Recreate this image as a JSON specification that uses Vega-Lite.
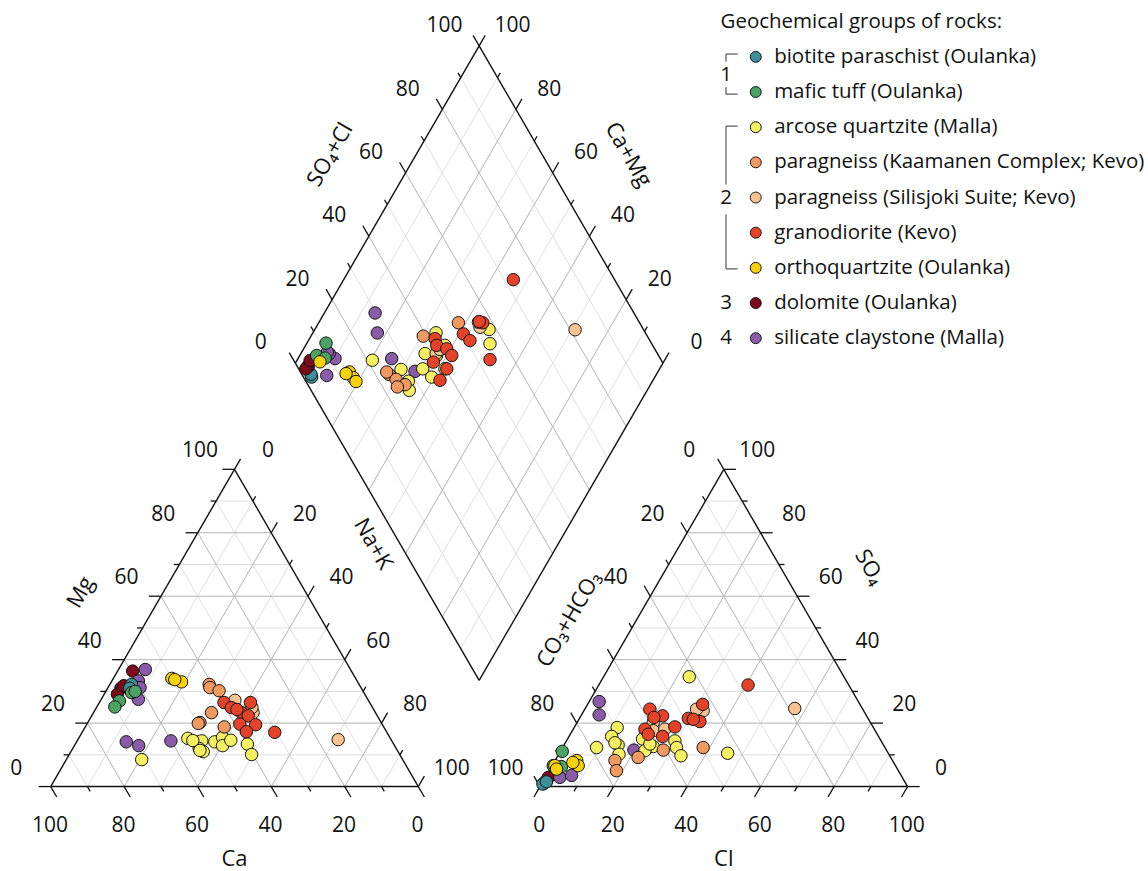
{
  "$schema": "https://vega.github.io/schema/vega-lite/v6.json",
  "width": 1148,
  "height": 871,
  "padding": 0,
  "autosize": {"type": "fit", "contains": "padding"},
  "background": "white",
  "config": {"view": {"stroke": null}, "text": {"font": "Open Sans", "color": "#111111"}},
  "datasets": {
    "grid": [
      {"fam": "Ca", "v": [0,10,20,30,40,50,60,70,80,90,100]},
      {"fam": "Mg", "v": [0,10,20,30,40,50,60,70,80,90,100]},
      {"fam": "NaK", "v": [0,10,20,30,40,50,60,70,80,90,100]},
      {"fam": "Cl", "v": [0,10,20,30,40,50,60,70,80,90,100]},
      {"fam": "SO4", "v": [0,10,20,30,40,50,60,70,80,90,100]},
      {"fam": "CO3", "v": [0,10,20,30,40,50,60,70,80,90,100]},
      {"fam": "SC", "v": [0,10,20,30,40,50,60,70,80,90,100]},
      {"fam": "CM", "v": [0,10,20,30,40,50,60,70,80,90,100]}
    ],
    "titles": [
      {"title": "Ca", "fam": "Ca", "v": 50},
      {"title": "Mg", "fam": "Mg", "v": 50},
      {"title": "Na+K", "fam": "NaK", "v": 36.5},
      {"title": "Cl", "fam": "Cl", "v": 50},
      {"title": "SO₄", "fam": "SO4", "v": 57},
      {"title": "CO₃+HCO₃", "fam": "CO3", "v": 56.5},
      {"title": "SO₄+Cl", "fam": "SC", "v": 54},
      {"title": "Ca+Mg", "fam": "CM", "v": 54}
    ],
    "cations": [
      {"group": "dolomite", "Ca": 59.5, "Mg": 36.4},
      {"group": "dolomite", "Ca": 65.4, "Mg": 31.0},
      {"group": "dolomite", "Ca": 67.3, "Mg": 29.1},
      {"group": "dolomite", "Ca": 64.2, "Mg": 31.8},
      {"group": "silicate claystone", "Ca": 55.8, "Mg": 36.9},
      {"group": "silicate claystone", "Ca": 59.5, "Mg": 33.3},
      {"group": "silicate claystone", "Ca": 60.1, "Mg": 31.2},
      {"group": "silicate claystone", "Ca": 62.4, "Mg": 27.5},
      {"group": "silicate claystone", "Ca": 72.4, "Mg": 14.1},
      {"group": "silicate claystone", "Ca": 69.6, "Mg": 12.9},
      {"group": "silicate claystone", "Ca": 60.1, "Mg": 14.4},
      {"group": "biotite paraschist", "Ca": 61.9, "Mg": 32.2},
      {"group": "biotite paraschist", "Ca": 63.0, "Mg": 31.0},
      {"group": "mafic tuff", "Ca": 63.2, "Mg": 29.6},
      {"group": "mafic tuff", "Ca": 67.8, "Mg": 27.0},
      {"group": "mafic tuff", "Ca": 70.0, "Mg": 25.1},
      {"group": "mafic tuff", "Ca": 62.0, "Mg": 30.0},
      {"group": "orthoquartzite", "Ca": 50.0, "Mg": 34.1},
      {"group": "orthoquartzite", "Ca": 47.9, "Mg": 33.0},
      {"group": "orthoquartzite", "Ca": 49.4, "Mg": 33.7},
      {"group": "arcose quartzite", "Ca": 55.1, "Mg": 15.2},
      {"group": "arcose quartzite", "Ca": 53.3, "Mg": 14.1},
      {"group": "arcose quartzite", "Ca": 51.7, "Mg": 14.4},
      {"group": "arcose quartzite", "Ca": 53.6, "Mg": 12.0},
      {"group": "arcose quartzite", "Ca": 53.0, "Mg": 11.0},
      {"group": "arcose quartzite", "Ca": 48.3, "Mg": 14.1},
      {"group": "arcose quartzite", "Ca": 45.5, "Mg": 15.5},
      {"group": "arcose quartzite", "Ca": 46.8, "Mg": 12.9},
      {"group": "arcose quartzite", "Ca": 43.7, "Mg": 14.6},
      {"group": "arcose quartzite", "Ca": 39.8, "Mg": 13.4},
      {"group": "arcose quartzite", "Ca": 40.3, "Mg": 10.1},
      {"group": "arcose quartzite", "Ca": 71.0, "Mg": 8.5},
      {"group": "arcose quartzite", "Ca": 54.1, "Mg": 14.5},
      {"group": "arcose quartzite", "Ca": 53.7, "Mg": 11.4},
      {"group": "paragneiss Kaamanen", "Ca": 40.8, "Mg": 32.2},
      {"group": "paragneiss Kaamanen", "Ca": 41.1, "Mg": 31.2},
      {"group": "paragneiss Kaamanen", "Ca": 39.1, "Mg": 30.2},
      {"group": "paragneiss Kaamanen", "Ca": 44.6, "Mg": 23.3},
      {"group": "paragneiss Kaamanen", "Ca": 49.3, "Mg": 20.2},
      {"group": "paragneiss Kaamanen", "Ca": 49.9, "Mg": 19.9},
      {"group": "paragneiss Kaamanen", "Ca": 43.4, "Mg": 18.8},
      {"group": "paragneiss Silisjoki", "Ca": 36.3, "Mg": 27.2},
      {"group": "paragneiss Silisjoki", "Ca": 33.3, "Mg": 23.3},
      {"group": "paragneiss Silisjoki", "Ca": 32.8, "Mg": 24.9},
      {"group": "paragneiss Silisjoki", "Ca": 14.4, "Mg": 14.8},
      {"group": "granodiorite", "Ca": 39.6, "Mg": 26.5},
      {"group": "granodiorite", "Ca": 38.4, "Mg": 24.9},
      {"group": "granodiorite", "Ca": 32.4, "Mg": 26.5},
      {"group": "granodiorite", "Ca": 36.4, "Mg": 23.3},
      {"group": "granodiorite", "Ca": 35.1, "Mg": 22.3},
      {"group": "granodiorite", "Ca": 38.7, "Mg": 19.7},
      {"group": "granodiorite", "Ca": 34.5, "Mg": 19.5},
      {"group": "granodiorite", "Ca": 38.1, "Mg": 17.3},
      {"group": "granodiorite", "Ca": 30.5, "Mg": 17.1},
      {"group": "granodiorite", "Ca": 37.2, "Mg": 24.3}
    ],
    "anions": [
      {"group": "dolomite", "Cl": 0.85, "SO4": 1.9},
      {"group": "dolomite", "Cl": 0.8, "SO4": 2.9},
      {"group": "dolomite", "Cl": 0.5, "SO4": 1.0},
      {"group": "biotite paraschist", "Cl": 0.4, "SO4": 0.8},
      {"group": "biotite paraschist", "Cl": 1.0, "SO4": 1.5},
      {"group": "silicate claystone", "Cl": 2.7, "SO4": 26.8},
      {"group": "silicate claystone", "Cl": 4.8, "SO4": 22.6},
      {"group": "silicate claystone", "Cl": 19.8, "SO4": 11.5},
      {"group": "silicate claystone", "Cl": 3.95, "SO4": 2.9},
      {"group": "silicate claystone", "Cl": 6.85, "SO4": 3.5},
      {"group": "mafic tuff", "Cl": 0.5, "SO4": 11.1},
      {"group": "mafic tuff", "Cl": 2.7, "SO4": 6.3},
      {"group": "mafic tuff", "Cl": 0.3, "SO4": 6.6},
      {"group": "orthoquartzite", "Cl": 5.9, "SO4": 8.2},
      {"group": "orthoquartzite", "Cl": 7.1, "SO4": 6.6},
      {"group": "orthoquartzite", "Cl": 5.15, "SO4": 7.6},
      {"group": "orthoquartzite", "Cl": 0.75, "SO4": 6.6},
      {"group": "orthoquartzite", "Cl": 1.75, "SO4": 5.5},
      {"group": "arcose quartzite", "Cl": 23.3, "SO4": 34.6},
      {"group": "arcose quartzite", "Cl": 11.7, "SO4": 18.6},
      {"group": "arcose quartzite", "Cl": 11.6, "SO4": 15.8},
      {"group": "arcose quartzite", "Cl": 14.7, "SO4": 13.1},
      {"group": "arcose quartzite", "Cl": 16.4, "SO4": 10.2},
      {"group": "arcose quartzite", "Cl": 9.25, "SO4": 12.3},
      {"group": "arcose quartzite", "Cl": 20.4, "SO4": 15.0},
      {"group": "arcose quartzite", "Cl": 24.5, "SO4": 12.6},
      {"group": "arcose quartzite", "Cl": 22.9, "SO4": 11.3},
      {"group": "arcose quartzite", "Cl": 29.5, "SO4": 14.4},
      {"group": "arcose quartzite", "Cl": 31.0, "SO4": 12.3},
      {"group": "arcose quartzite", "Cl": 33.5, "SO4": 9.7},
      {"group": "arcose quartzite", "Cl": 45.8, "SO4": 10.5},
      {"group": "arcose quartzite", "Cl": 23.2, "SO4": 13.4},
      {"group": "arcose quartzite", "Cl": 13.5, "SO4": 13.8},
      {"group": "paragneiss Kaamanen", "Cl": 16.3, "SO4": 8.2},
      {"group": "paragneiss Kaamanen", "Cl": 18.3, "SO4": 5.0},
      {"group": "paragneiss Kaamanen", "Cl": 22.1, "SO4": 9.2},
      {"group": "paragneiss Kaamanen", "Cl": 27.8, "SO4": 11.5},
      {"group": "paragneiss Kaamanen", "Cl": 38.25, "SO4": 12.3},
      {"group": "paragneiss Silisjoki", "Cl": 20.7, "SO4": 20.2},
      {"group": "paragneiss Silisjoki", "Cl": 22.0, "SO4": 17.6},
      {"group": "paragneiss Silisjoki", "Cl": 24.9, "SO4": 18.1},
      {"group": "paragneiss Silisjoki", "Cl": 32.45, "SO4": 23.9},
      {"group": "paragneiss Silisjoki", "Cl": 30.4, "SO4": 24.4},
      {"group": "paragneiss Silisjoki", "Cl": 57.0, "SO4": 24.6},
      {"group": "granodiorite", "Cl": 40.6, "SO4": 32.0},
      {"group": "granodiorite", "Cl": 17.7, "SO4": 24.4},
      {"group": "granodiorite", "Cl": 22.2, "SO4": 22.3},
      {"group": "granodiorite", "Cl": 19.5, "SO4": 18.1},
      {"group": "granodiorite", "Cl": 25.45, "SO4": 15.8},
      {"group": "granodiorite", "Cl": 27.3, "SO4": 18.8},
      {"group": "granodiorite", "Cl": 31.3, "SO4": 25.9},
      {"group": "granodiorite", "Cl": 29.6, "SO4": 21.5},
      {"group": "granodiorite", "Cl": 33.25, "SO4": 20.5},
      {"group": "granodiorite", "Cl": 31.1, "SO4": 21.2},
      {"group": "granodiorite", "Cl": 20.1, "SO4": 21.8},
      {"group": "granodiorite", "Cl": 21.2, "SO4": 16.5}
    ],
    "diamond": [
      {"group": "silicate claystone", "NaK": 13.8, "SO4Cl": 29.6},
      {"group": "silicate claystone", "NaK": 17.55, "SO4Cl": 27.05},
      {"group": "silicate claystone", "NaK": 25.5, "SO4Cl": 26.9},
      {"group": "silicate claystone", "NaK": 33.85, "SO4Cl": 31.25},
      {"group": "silicate claystone", "NaK": 10.5, "SO4Cl": 6.6},
      {"group": "silicate claystone", "NaK": 10.1, "SO4Cl": 11.5},
      {"group": "silicate claystone", "NaK": 7.75, "SO4Cl": 10.75},
      {"group": "silicate claystone", "NaK": 6.95, "SO4Cl": 10.45},
      {"group": "biotite paraschist", "NaK": 6.65, "SO4Cl": 2.25},
      {"group": "biotite paraschist", "NaK": 6.0, "SO4Cl": 2.5},
      {"group": "dolomite", "NaK": 4.05, "SO4Cl": 3.0},
      {"group": "dolomite", "NaK": 3.85, "SO4Cl": 2.65},
      {"group": "dolomite", "NaK": 3.75, "SO4Cl": 1.95},
      {"group": "dolomite", "NaK": 3.6, "SO4Cl": 4.4},
      {"group": "mafic tuff", "NaK": 5.2, "SO4Cl": 11.5},
      {"group": "mafic tuff", "NaK": 4.6, "SO4Cl": 7.0},
      {"group": "mafic tuff", "NaK": 7.3, "SO4Cl": 8.9},
      {"group": "orthoquartzite", "NaK": 16.1, "SO4Cl": 13.3},
      {"group": "orthoquartzite", "NaK": 18.1, "SO4Cl": 13.5},
      {"group": "orthoquartzite", "NaK": 19.4, "SO4Cl": 13.6},
      {"group": "orthoquartzite", "NaK": 15.45, "SO4Cl": 12.15},
      {"group": "orthoquartzite", "NaK": 6.5, "SO4Cl": 6.9},
      {"group": "arcose quartzite", "NaK": 20.5, "SO4Cl": 21.4},
      {"group": "arcose quartzite", "NaK": 29.75, "SO4Cl": 27.75},
      {"group": "arcose quartzite", "NaK": 33.6, "SO4Cl": 27.9},
      {"group": "arcose quartzite", "NaK": 35.3, "SO4Cl": 26.7},
      {"group": "arcose quartzite", "NaK": 35.55, "SO4Cl": 33.75},
      {"group": "arcose quartzite", "NaK": 33.8, "SO4Cl": 36.8},
      {"group": "arcose quartzite", "NaK": 39.3, "SO4Cl": 34.9},
      {"group": "arcose quartzite", "NaK": 33.5, "SO4Cl": 43.05},
      {"group": "arcose quartzite", "NaK": 37.9, "SO4Cl": 43.5},
      {"group": "arcose quartzite", "NaK": 41.6, "SO4Cl": 39.8},
      {"group": "arcose quartzite", "NaK": 47.4, "SO4Cl": 58.0},
      {"group": "arcose quartzite", "NaK": 49.9, "SO4Cl": 56.0},
      {"group": "arcose quartzite", "NaK": 37.25, "SO4Cl": 39.65},
      {"group": "paragneiss Kaamanen", "NaK": 38.0, "SO4Cl": 50.7},
      {"group": "paragneiss Kaamanen", "NaK": 30.55, "SO4Cl": 39.05},
      {"group": "paragneiss Kaamanen", "NaK": 27.35, "SO4Cl": 23.75},
      {"group": "paragneiss Kaamanen", "NaK": 29.95, "SO4Cl": 24.85},
      {"group": "paragneiss Kaamanen", "NaK": 33.25, "SO4Cl": 26.45},
      {"group": "paragneiss Kaamanen", "NaK": 26.25, "SO4Cl": 23.45},
      {"group": "paragneiss Kaamanen", "NaK": 31.5, "SO4Cl": 24.0},
      {"group": "paragneiss Silisjoki", "NaK": 36.8, "SO4Cl": 39.8},
      {"group": "paragneiss Silisjoki", "NaK": 37.2, "SO4Cl": 41.5},
      {"group": "paragneiss Silisjoki", "NaK": 44.6, "SO4Cl": 55.9},
      {"group": "paragneiss Silisjoki", "NaK": 70.85, "SO4Cl": 81.35},
      {"group": "paragneiss Silisjoki", "NaK": 43.35, "SO4Cl": 56.25},
      {"group": "granodiorite", "NaK": 46.15, "SO4Cl": 72.45},
      {"group": "granodiorite", "NaK": 34.15, "SO4Cl": 41.85},
      {"group": "granodiorite", "NaK": 35.65, "SO4Cl": 41.25},
      {"group": "granodiorite", "NaK": 38.95, "SO4Cl": 43.45},
      {"group": "granodiorite", "NaK": 41.35, "SO4Cl": 43.75},
      {"group": "granodiorite", "NaK": 37.4, "SO4Cl": 37.7},
      {"group": "granodiorite", "NaK": 42.1, "SO4Cl": 40.3},
      {"group": "granodiorite", "NaK": 42.05, "SO4Cl": 36.65},
      {"group": "granodiorite", "NaK": 41.1, "SO4Cl": 50.3},
      {"group": "granodiorite", "NaK": 43.95, "SO4Cl": 51.05},
      {"group": "granodiorite", "NaK": 44.65, "SO4Cl": 57.35},
      {"group": "granodiorite", "NaK": 43.5, "SO4Cl": 56.6},
      {"group": "granodiorite", "NaK": 52.4, "SO4Cl": 53.5}
    ],
    "legend": [
      {"group": "biotite paraschist", "label": "biotite paraschist (Oulanka)", "rank": 0},
      {"group": "mafic tuff", "label": "mafic tuff (Oulanka)", "rank": 1},
      {"group": "arcose quartzite", "label": "arcose quartzite (Malla)", "rank": 2},
      {"group": "paragneiss Kaamanen", "label": "paragneiss (Kaamanen Complex; Kevo)", "rank": 3},
      {"group": "paragneiss Silisjoki", "label": "paragneiss (Silisjoki Suite; Kevo)", "rank": 4},
      {"group": "granodiorite", "label": "granodiorite (Kevo)", "rank": 5},
      {"group": "orthoquartzite", "label": "orthoquartzite (Oulanka)", "rank": 6},
      {"group": "dolomite", "label": "dolomite (Oulanka)", "rank": 7},
      {"group": "silicate claystone", "label": "silicate claystone (Malla)", "rank": 8}
    ],
    "legendnums": [
      {"num": "1", "r": 0.51},
      {"num": "2", "r": 4},
      {"num": "3", "r": 7},
      {"num": "4", "r": 8}
    ],
    "brackets": [
      {"r1": -0.08, "r2": 0.14, "end": "top"},
      {"r1": 0.86, "r2": 1.06, "end": "bottom"},
      {"r1": 1.97, "r2": 3.63, "end": "top"},
      {"r1": 4.48, "r2": 6.03, "end": "bottom"}
    ]
  },
  "encoding": {
    "x": {"field": "x", "type": "quantitative", "scale": {"domain": [-13.79, 298.5], "nice": false, "zero": false}, "axis": null},
    "y": {"field": "y", "type": "quantitative", "scale": {"domain": [-22.23, 214.72], "nice": false, "zero": false}, "axis": null}
  },
  "layer": [
    {
      "data": {"name": "grid"},
      "transform": [
        {"flatten": ["v"]},
        {"filter": "datum.v>0 && datum.v<100 && datum.v%20!=0"},
        {"calculate": "datum.fam=='Ca'?50-datum.v/2:datum.fam=='Mg'?datum.v/2:datum.fam=='NaK'?datum.v:datum.fam=='Cl'?133.1+datum.v:datum.fam=='SO4'?133.1+datum.v/2:datum.fam=='CO3'?233.1-datum.v:datum.fam=='SC'?66.55+datum.v/2:116.55-datum.v/2", "as": "x"},
        {"calculate": "datum.fam=='Ca'?0.8660254*(100-datum.v):(datum.fam=='Mg'||datum.fam=='SO4')?0.8660254*datum.v:(datum.fam=='NaK'||datum.fam=='Cl'||datum.fam=='CO3')?0:datum.fam=='SC'?115.6+0.8660254*datum.v:115.6-0.8660254*(100-datum.v)", "as": "y"},
        {"calculate": "datum.fam=='Ca'?100-datum.v:datum.fam=='Mg'?100-datum.v/2:datum.fam=='NaK'?50+datum.v/2:datum.fam=='Cl'?183.1+datum.v/2:datum.fam=='SO4'?233.1-datum.v/2:datum.fam=='CO3'?183.1-datum.v/2:datum.fam=='SC'?116.55+datum.v/2:166.55-datum.v/2", "as": "x2"},
        {"calculate": "datum.fam=='Ca'?0:(datum.fam=='Mg'||datum.fam=='SO4')?0.8660254*datum.v:(datum.fam=='NaK'||datum.fam=='Cl'||datum.fam=='CO3')?0.8660254*(100-datum.v):datum.fam=='SC'?115.6+0.8660254*(datum.v-100):115.6+0.8660254*datum.v", "as": "y2"}
      ],
      "mark": {"type": "rule", "stroke": "#dedede", "strokeWidth": 1},
      "encoding": {"x2": {"field": "x2"}, "y2": {"field": "y2"}}
    },
    {
      "data": {"name": "grid"},
      "transform": [
        {"flatten": ["v"]},
        {"filter": "datum.v>0 && datum.v<100 && datum.v%20==0"},
        {"calculate": "datum.fam=='Ca'?50-datum.v/2:datum.fam=='Mg'?datum.v/2:datum.fam=='NaK'?datum.v:datum.fam=='Cl'?133.1+datum.v:datum.fam=='SO4'?133.1+datum.v/2:datum.fam=='CO3'?233.1-datum.v:datum.fam=='SC'?66.55+datum.v/2:116.55-datum.v/2", "as": "x"},
        {"calculate": "datum.fam=='Ca'?0.8660254*(100-datum.v):(datum.fam=='Mg'||datum.fam=='SO4')?0.8660254*datum.v:(datum.fam=='NaK'||datum.fam=='Cl'||datum.fam=='CO3')?0:datum.fam=='SC'?115.6+0.8660254*datum.v:115.6-0.8660254*(100-datum.v)", "as": "y"},
        {"calculate": "datum.fam=='Ca'?100-datum.v:datum.fam=='Mg'?100-datum.v/2:datum.fam=='NaK'?50+datum.v/2:datum.fam=='Cl'?183.1+datum.v/2:datum.fam=='SO4'?233.1-datum.v/2:datum.fam=='CO3'?183.1-datum.v/2:datum.fam=='SC'?116.55+datum.v/2:166.55-datum.v/2", "as": "x2"},
        {"calculate": "datum.fam=='Ca'?0:(datum.fam=='Mg'||datum.fam=='SO4')?0.8660254*datum.v:(datum.fam=='NaK'||datum.fam=='Cl'||datum.fam=='CO3')?0.8660254*(100-datum.v):datum.fam=='SC'?115.6+0.8660254*(datum.v-100):115.6+0.8660254*datum.v", "as": "y2"}
      ],
      "mark": {"type": "rule", "stroke": "#b3b3b3", "strokeWidth": 1},
      "encoding": {"x2": {"field": "x2"}, "y2": {"field": "y2"}}
    },
    {
      "data": {"name": "grid"},
      "transform": [
        {"flatten": ["v"]},
        {"filter": "datum.v==0 || ((datum.fam=='SC'||datum.fam=='CM') && datum.v==100)"},
        {"calculate": "datum.fam=='Ca'?50-datum.v/2:datum.fam=='Mg'?datum.v/2:datum.fam=='NaK'?datum.v:datum.fam=='Cl'?133.1+datum.v:datum.fam=='SO4'?133.1+datum.v/2:datum.fam=='CO3'?233.1-datum.v:datum.fam=='SC'?66.55+datum.v/2:116.55-datum.v/2", "as": "x"},
        {"calculate": "datum.fam=='Ca'?0.8660254*(100-datum.v):(datum.fam=='Mg'||datum.fam=='SO4')?0.8660254*datum.v:(datum.fam=='NaK'||datum.fam=='Cl'||datum.fam=='CO3')?0:datum.fam=='SC'?115.6+0.8660254*datum.v:115.6-0.8660254*(100-datum.v)", "as": "y"},
        {"calculate": "datum.fam=='Ca'?100-datum.v:datum.fam=='Mg'?100-datum.v/2:datum.fam=='NaK'?50+datum.v/2:datum.fam=='Cl'?183.1+datum.v/2:datum.fam=='SO4'?233.1-datum.v/2:datum.fam=='CO3'?183.1-datum.v/2:datum.fam=='SC'?116.55+datum.v/2:166.55-datum.v/2", "as": "x2"},
        {"calculate": "datum.fam=='Ca'?0:(datum.fam=='Mg'||datum.fam=='SO4')?0.8660254*datum.v:(datum.fam=='NaK'||datum.fam=='Cl'||datum.fam=='CO3')?0.8660254*(100-datum.v):datum.fam=='SC'?115.6+0.8660254*(datum.v-100):115.6+0.8660254*datum.v", "as": "y2"}
      ],
      "mark": {"type": "rule", "stroke": "#111111", "strokeWidth": 1.4},
      "encoding": {"x2": {"field": "x2"}, "y2": {"field": "y2"}}
    },
    {
      "data": {"name": "grid"},
      "transform": [
        {"flatten": ["v"]},
        {"calculate": "datum.v%20==0?3.3:1.5", "as": "t"},
        {"calculate": "datum.fam=='Ca'?100-datum.v:datum.fam=='Mg'?datum.v/2:datum.fam=='NaK'?50+datum.v/2:datum.fam=='Cl'?133.1+datum.v:datum.fam=='SO4'?233.1-datum.v/2:datum.fam=='CO3'?183.1-datum.v/2:datum.fam=='SC'?66.55+datum.v/2:166.55-datum.v/2", "as": "x"},
        {"calculate": "(datum.fam=='Ca'||datum.fam=='Cl')?0:(datum.fam=='Mg'||datum.fam=='SO4')?0.8660254*datum.v:(datum.fam=='NaK'||datum.fam=='CO3')?0.8660254*(100-datum.v):115.6+0.8660254*datum.v", "as": "y"},
        {"calculate": "datum.fam=='Mg'?-1:datum.fam=='SO4'?1:(datum.fam=='Ca'||datum.fam=='NaK'||datum.fam=='CM')?0.5:-0.5", "as": "dx"},
        {"calculate": "(datum.fam=='Mg'||datum.fam=='SO4')?0:(datum.fam=='Ca'||datum.fam=='Cl')?-0.8660254:0.8660254", "as": "dy"},
        {"calculate": "datum.x+datum.t*datum.dx", "as": "x2"},
        {"calculate": "datum.y+datum.t*datum.dy", "as": "y2"}
      ],
      "mark": {"type": "rule", "stroke": "#111111", "strokeWidth": 1.3},
      "encoding": {"x2": {"field": "x2"}, "y2": {"field": "y2"}}
    },
    {
      "data": {"name": "grid"},
      "transform": [
        {"flatten": ["v"]},
        {"filter": "datum.v%20==0 && !(datum.fam=='CO3' && datum.v==60)"},
        {"calculate": "datum.fam=='Ca'?100-datum.v:datum.fam=='Mg'?datum.v/2:datum.fam=='NaK'?50+datum.v/2:datum.fam=='Cl'?133.1+datum.v:datum.fam=='SO4'?233.1-datum.v/2:datum.fam=='CO3'?183.1-datum.v/2:datum.fam=='SC'?66.55+datum.v/2:166.55-datum.v/2", "as": "ex"},
        {"calculate": "(datum.fam=='Ca'||datum.fam=='Cl')?0:(datum.fam=='Mg'||datum.fam=='SO4')?0.8660254*datum.v:(datum.fam=='NaK'||datum.fam=='CO3')?0.8660254*(100-datum.v):115.6+0.8660254*datum.v", "as": "ey"},
        {"calculate": "datum.ex+((datum.fam=='Ca'||datum.fam=='Cl')?-0.2:(datum.fam=='Mg'||datum.fam=='CO3'||datum.fam=='SC')?-9.4:9.1)", "as": "x"},
        {"calculate": "datum.ey+((datum.fam=='Ca'||datum.fam=='Cl')?-10.9:(datum.fam=='SC'||datum.fam=='CM')?5.4:4.9)", "as": "y"}
      ],
      "mark": {"type": "text", "fontSize": 21, "align": "center", "baseline": "middle"},
      "encoding": {"text": {"field": "v", "type": "quantitative", "format": "d"}}
    },
    {
      "data": {"name": "titles"},
      "transform": [
        {"calculate": "datum.fam=='Ca'?100-datum.v:datum.fam=='Mg'?datum.v/2:datum.fam=='NaK'?50+datum.v/2:datum.fam=='Cl'?133.1+datum.v:datum.fam=='SO4'?233.1-datum.v/2:datum.fam=='CO3'?183.1-datum.v/2:datum.fam=='SC'?66.55+datum.v/2:166.55-datum.v/2", "as": "ex"},
        {"calculate": "(datum.fam=='Ca'||datum.fam=='Cl')?0:(datum.fam=='Mg'||datum.fam=='SO4')?0.8660254*datum.v:(datum.fam=='NaK'||datum.fam=='CO3')?0.8660254*(100-datum.v):115.6+0.8660254*datum.v", "as": "ey"},
        {"calculate": "(datum.fam=='Ca'||datum.fam=='Cl')?19.8:datum.fam=='Mg'?19.5:datum.fam=='NaK'?22.5:datum.fam=='CO3'?16:datum.fam=='SO4'?21:20.3", "as": "d"},
        {"calculate": "datum.ex+datum.d*((datum.fam=='Ca'||datum.fam=='Cl')?0:(datum.fam=='Mg'||datum.fam=='CO3'||datum.fam=='SC')?-0.8660254:0.8660254)", "as": "x"},
        {"calculate": "datum.ey+datum.d*((datum.fam=='Ca'||datum.fam=='Cl')?-1:0.5)", "as": "y"},
        {"calculate": "(datum.fam=='Ca'||datum.fam=='Cl')?0:(datum.fam=='Mg'||datum.fam=='CO3'||datum.fam=='SC')?-60:60", "as": "ang"}
      ],
      "mark": {"type": "text", "fontSize": 22, "align": "center", "baseline": "middle"},
      "encoding": {
        "text": {"field": "title", "type": "nominal"},
        "angle": {"field": "ang", "type": "quantitative", "scale": null}
      }
    },
    {
      "data": {"name": "cations"},
      "transform": [
        {"calculate": "100-datum.Ca-datum.Mg/2", "as": "x"},
        {"calculate": "0.8660254*datum.Mg", "as": "y"}
      ],
      "mark": {"type": "circle", "size": 155, "stroke": "#151515", "strokeWidth": 1, "opacity": 1},
      "encoding": {
        "fill": {"field": "group", "type": "nominal", "legend": null,
          "scale": {"domain": ["biotite paraschist", "mafic tuff", "arcose quartzite", "paragneiss Kaamanen", "paragneiss Silisjoki", "granodiorite", "orthoquartzite", "dolomite", "silicate claystone"],
                    "range": ["#3f8f98", "#4da165", "#f4ef63", "#f09a61", "#f8c592", "#e3432b", "#f5d10d", "#7b0b1d", "#8a5ba6"]}}
      }
    },
    {
      "data": {"name": "anions"},
      "transform": [
        {"calculate": "133.1+datum.Cl+datum.SO4/2", "as": "x"},
        {"calculate": "0.8660254*datum.SO4", "as": "y"}
      ],
      "mark": {"type": "circle", "size": 155, "stroke": "#151515", "strokeWidth": 1, "opacity": 1},
      "encoding": {"fill": {"field": "group", "type": "nominal", "legend": null}}
    },
    {
      "data": {"name": "diamond"},
      "transform": [
        {"calculate": "66.55+(datum.SO4Cl+datum.NaK)/2", "as": "x"},
        {"calculate": "115.6+0.8660254*(datum.SO4Cl-datum.NaK)", "as": "y"}
      ],
      "mark": {"type": "circle", "size": 155, "stroke": "#151515", "strokeWidth": 1, "opacity": 1},
      "encoding": {"fill": {"field": "group", "type": "nominal", "legend": null}}
    },
    {
      "data": {"values": [{"text": "Geochemical groups of rocks:"}]},
      "transform": [
        {"calculate": "182.2", "as": "x"},
        {"calculate": "208.6", "as": "y"}
      ],
      "mark": {"type": "text", "fontSize": 20.5, "align": "left", "baseline": "middle"},
      "encoding": {"text": {"field": "text", "type": "nominal"}}
    },
    {
      "data": {"name": "legend"},
      "transform": [
        {"calculate": "191.8", "as": "x"},
        {"calculate": "199.2-9.6*datum.rank", "as": "y"}
      ],
      "mark": {"type": "circle", "size": 120, "stroke": "#151515", "strokeWidth": 1, "opacity": 1},
      "encoding": {"fill": {"field": "group", "type": "nominal", "legend": null}}
    },
    {
      "data": {"name": "legend"},
      "transform": [
        {"calculate": "196.8", "as": "x"},
        {"calculate": "199.2-9.6*datum.rank", "as": "y"}
      ],
      "mark": {"type": "text", "fontSize": 20.5, "align": "left", "baseline": "middle"},
      "encoding": {"text": {"field": "label", "type": "nominal"}}
    },
    {
      "data": {"name": "legendnums"},
      "transform": [
        {"calculate": "183.7", "as": "x"},
        {"calculate": "199.2-9.6*datum.r", "as": "y"}
      ],
      "mark": {"type": "text", "fontSize": 20.5, "align": "center", "baseline": "middle"},
      "encoding": {"text": {"field": "num", "type": "nominal"}}
    },
    {
      "data": {"name": "brackets"},
      "transform": [
        {"calculate": "183.7", "as": "x"},
        {"calculate": "183.7", "as": "x2"},
        {"calculate": "199.2-9.6*datum.r1", "as": "y"},
        {"calculate": "199.2-9.6*datum.r2", "as": "y2"}
      ],
      "mark": {"type": "rule", "stroke": "#333333", "strokeWidth": 1},
      "encoding": {"x2": {"field": "x2"}, "y2": {"field": "y2"}}
    },
    {
      "data": {"name": "brackets"},
      "transform": [
        {"calculate": "183.7", "as": "x"},
        {"calculate": "186.9", "as": "x2"},
        {"calculate": "199.2-9.6*(datum.end=='top'?datum.r1:datum.r2)", "as": "y"},
        {"calculate": "datum.y", "as": "y2"}
      ],
      "mark": {"type": "rule", "stroke": "#333333", "strokeWidth": 1},
      "encoding": {"x2": {"field": "x2"}, "y2": {"field": "y2"}}
    }
  ]
}
